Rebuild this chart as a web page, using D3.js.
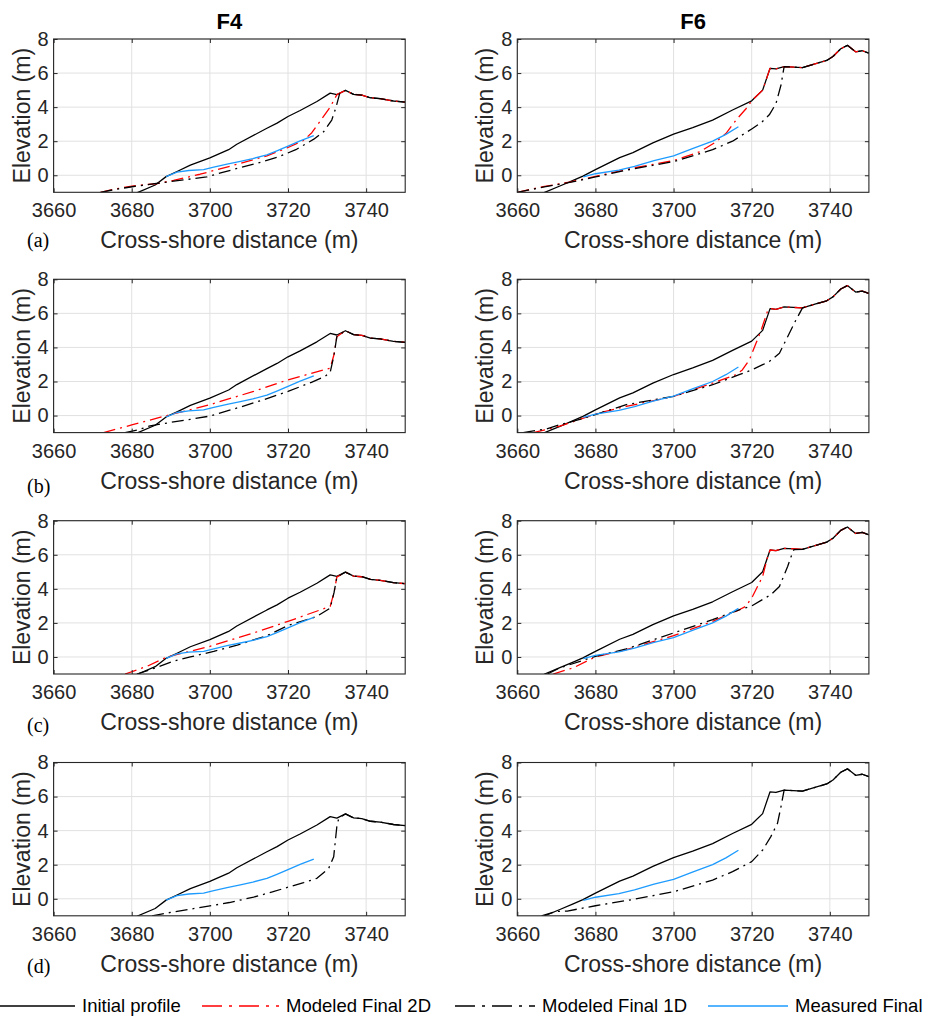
<!DOCTYPE html>
<html><head><meta charset="utf-8">
<script src="https://cdn.jsdelivr.net/npm/d3@7"></script>
<style>body{margin:0;background:#fff} svg{display:block}</style>
</head><body><svg id="c" width="928" height="1017"></svg>
<script>
// ---------------- DATA ----------------
const columnTitles = ["F4", "F6"];
const panelLabels = ["(a)", "(b)", "(c)", "(d)"];
const xTicks = [3660, 3680, 3700, 3720, 3740];
const yTicks = [0, 2, 4, 6, 8];
const xDomain = [3660, 3750];
const yDomain = [-1, 8];
const xLabel = "Cross-shore distance (m)";
const yLabel = "Elevation (m)";
const seriesNames = ["Initial profile", "Modeled Final 2D", "Modeled Final 1D", "Measured Final"];

// F4 profiles
const f4Initial = [[3680,-1.35],[3681.6,-1],[3686,-0.57],[3688.8,-0.08],[3691.6,0.22],[3695,0.6],[3700,1.02],[3704.8,1.5],[3706.9,1.82],[3714.6,2.76],[3717.2,3.06],[3720,3.45],[3723.1,3.8],[3727.4,4.33],[3730.8,4.82],[3732.5,4.73],[3734.7,4.98],[3736.8,4.75],[3738.9,4.71],[3741.1,4.55],[3743.6,4.5],[3747,4.36],[3750,4.3]];
const f4Measured = [[3688.8,-0.08],[3691.6,0.18],[3694.6,0.28],[3698.4,0.33],[3701,0.48],[3704.4,0.66],[3707.8,0.82],[3711,0.98],[3714.6,1.2],[3717,1.42],[3719.7,1.68],[3723.1,2.02],[3726.6,2.33]];
const f4Model2D_a = [[3672,-1],[3675.4,-0.82],[3680.5,-0.62],[3686.5,-0.49],[3690.7,-0.3],[3697.5,0.06],[3706.1,0.59],[3714.6,1.14],[3719.7,1.6],[3724,2.05],[3726.1,2.5],[3728.3,3.2],[3730.8,4.0],[3732.5,4.73]];
const f4Model1D_a = [[3672,-1],[3676,-0.82],[3680.5,-0.66],[3685,-0.52],[3689,-0.4],[3694,-0.25],[3699.2,-0.1],[3703,0.15],[3707.8,0.45],[3712,0.7],[3717.2,1.05],[3722,1.5],[3726.6,2.12],[3729.1,2.55],[3731.2,3.24],[3732.3,4.0],[3733.2,4.78]];
const f4Model2D_b = [[3672.8,-1],[3680,-0.55],[3689,0.0],[3700,0.64],[3711.2,1.42],[3720,2.1],[3730.8,2.78],[3731.8,3.6],[3732.5,4.63]];
const f4Model1D_b = [[3678.3,-1],[3681.5,-0.85],[3684.7,-0.6],[3690,-0.4],[3695,-0.22],[3700,-0.03],[3707.8,0.5],[3714,0.95],[3720,1.42],[3726,1.95],[3729.5,2.3],[3730.8,2.55],[3731.7,3.46],[3732.5,4.63]];
const f4Model2D_c = [[3678.3,-1],[3683.9,-0.55],[3689,0.0],[3700,0.62],[3711.2,1.41],[3720,2.09],[3730.8,2.97],[3731.8,3.8],[3732.5,4.69]];
const f4Model1D_c = [[3681.3,-1],[3684.7,-0.75],[3690.7,-0.25],[3695,0.0],[3701,0.33],[3707,0.7],[3714.6,1.25],[3720,1.85],[3727.4,2.38],[3730.8,2.87],[3731.8,3.8],[3732.5,4.69]];
const f4Model1D_d = [[3685.2,-1],[3690,-0.8],[3700,-0.42],[3705,-0.22],[3711.2,0.1],[3716,0.4],[3720,0.68],[3724,0.95],[3727.4,1.2],[3730.4,1.78],[3731.7,2.47],[3732.5,4.24],[3733,4.73]];

// F6 profiles
const f6Initial = [[3665,-1.4],[3667,-1],[3670.9,-0.63],[3674.3,-0.3],[3676.8,-0.05],[3680,0.33],[3686.2,1.04],[3689.6,1.33],[3694.7,1.9],[3700,2.41],[3704.9,2.8],[3710,3.24],[3715.1,3.83],[3720,4.37],[3722.8,5.0],[3724.7,6.28],[3726.2,6.24],[3728.3,6.38],[3733,6.32],[3736.4,6.55],[3739.2,6.74],[3740.8,6.97],[3742.8,7.43],[3744.5,7.63],[3746.6,7.25],[3748.3,7.31],[3750,7.17]];
const f6Measured = [[3676.9,-0.1],[3680,0.09],[3686,0.3],[3690,0.52],[3695,0.86],[3700,1.14],[3705,1.58],[3710,2.0],[3713.4,2.4],[3716.6,2.85]];
const f6Model2D_a = [[3660,-1],[3666.6,-0.67],[3673.4,-0.4],[3680,-0.07],[3687.9,0.35],[3700,0.86],[3706.6,1.37],[3710.9,1.96],[3713.4,2.45],[3716,3.24],[3718.6,3.92],[3720,4.37]];
const f6Model1D_a = [[3660,-1],[3666.6,-0.7],[3673.4,-0.42],[3680,-0.1],[3687.9,0.3],[3700,0.8],[3710,1.5],[3715.1,2.0],[3720,2.72],[3722.5,3.1],[3724.5,3.55],[3726.2,4.2],[3727.5,5.3],[3728.3,6.38]];
const f6Model2D_b = [[3664.1,-1],[3670.9,-0.62],[3676,-0.23],[3680,0.1],[3687.9,0.54],[3700,1.13],[3710,1.91],[3716,2.4],[3717.6,2.68],[3719.4,3.27],[3721.1,4.24],[3722.4,5.0],[3724.1,6.17],[3724.7,6.28]];
const f6Model1D_b = [[3661.5,-1],[3667.5,-0.78],[3670.9,-0.53],[3676,-0.23],[3680,0.06],[3687.9,0.64],[3700,1.13],[3710,1.81],[3716.8,2.4],[3720,2.68],[3724.5,3.17],[3727.1,3.66],[3729.2,4.63],[3731.3,5.6],[3733,6.32]];
const f6Model2D_c = [[3669.2,-1],[3674.3,-0.64],[3680,0.0],[3687.9,0.43],[3700,1.25],[3710,2.09],[3716.8,2.77],[3718.5,2.97],[3720.2,3.55],[3722.8,4.73],[3724.1,5.9],[3724.7,6.28]];
const f6Model1D_c = [[3667.7,-1],[3670.9,-0.64],[3680,0.04],[3687.9,0.47],[3700,1.41],[3710,2.19],[3716.8,2.77],[3720,3.0],[3724.9,3.65],[3727.1,4.14],[3729.2,5.31],[3730.1,5.9],[3730.8,6.3],[3733,6.32]];
const f6Model1D_d = [[3666.2,-1],[3670,-0.75],[3672.8,-0.72],[3680,-0.41],[3689.6,-0.04],[3700,0.41],[3710,1.1],[3715.1,1.59],[3720,2.18],[3722.8,2.86],[3724.9,3.65],[3726.6,4.43],[3727.5,5.41],[3728.3,6.38]];

// model profiles rejoin the initial profile landward of their last point
function withCrest(model, initial) {
  const last = model[model.length - 1][0];
  return model.concat(initial.filter(d => d[0] > last));
}

const panels = [
  {row:0,col:0,initial:f4Initial,m2d:f4Model2D_a,m1d:f4Model1D_a,meas:f4Measured},
  {row:0,col:1,initial:f6Initial,m2d:f6Model2D_a,m1d:f6Model1D_a,meas:f6Measured},
  {row:1,col:0,initial:f4Initial,m2d:f4Model2D_b,m1d:f4Model1D_b,meas:f4Measured},
  {row:1,col:1,initial:f6Initial,m2d:f6Model2D_b,m1d:f6Model1D_b,meas:f6Measured},
  {row:2,col:0,initial:f4Initial,m2d:f4Model2D_c,m1d:f4Model1D_c,meas:f4Measured},
  {row:2,col:1,initial:f6Initial,m2d:f6Model2D_c,m1d:f6Model1D_c,meas:f6Measured},
  {row:3,col:0,initial:f4Initial,m2d:null,m1d:f4Model1D_d,meas:f4Measured},
  {row:3,col:1,initial:f6Initial,m2d:null,m1d:f6Model1D_d,meas:f6Measured}
];

// ---------------- LAYOUT / STYLE ----------------
const colX = [53.6, 517.3];
const rowTop = [39, 279.3, 520.7, 762.5];
const plotW = 351.6, plotH = 153.3;
const labelBaseline = [246.5, 493, 732, 973];
const SANS = "'Liberation Sans', Arial, Helvetica, sans-serif";
const SERIF = "'Liberation Serif', 'Times New Roman', serif";
const AX = "#262626";
const styles = {
  initial: {stroke:"#000000", dash:null, w:1.3},
  m2d: {stroke:"#ff0000", dash:"12,5,2,5", w:1.3},
  m1d: {stroke:"#000000", dash:"12,5,2,5", w:1.3},
  meas: {stroke:"#1e9bff", dash:null, w:1.3}
};

const svg = d3.select("#c");
const x = d3.scaleLinear().domain(xDomain).range([0, plotW]);
const y = d3.scaleLinear().domain(yDomain).range([plotH, 0]);
const line = d3.line().x(d => x(d[0])).y(d => y(d[1]));

// column titles
columnTitles.forEach((t, i) => {
  svg.append("text").attr("x", colX[i] + plotW / 2).attr("y", 28.5)
    .attr("text-anchor", "middle").attr("font-family", SANS)
    .attr("font-weight", "bold").attr("font-size", 22).attr("fill", "#000").text(t);
});

panels.forEach((p, idx) => {
  const g = svg.append("g").attr("transform", `translate(${colX[p.col]},${rowTop[p.row]})`);
  // grid
  g.append("g").selectAll("line").data(xTicks).join("line")
    .attr("x1", d => x(d)).attr("x2", d => x(d)).attr("y1", 0).attr("y2", plotH)
    .attr("stroke", "#e1e1e1").attr("stroke-width", 1);
  g.append("g").selectAll("line").data(yTicks).join("line")
    .attr("y1", d => y(d)).attr("y2", d => y(d)).attr("x1", 0).attr("x2", plotW)
    .attr("stroke", "#e1e1e1").attr("stroke-width", 1);

  const cid = "clip" + idx;
  g.append("clipPath").attr("id", cid).append("rect")
    .attr("x", 0).attr("y", 0).attr("width", plotW).attr("height", plotH);
  const lg = g.append("g").attr("clip-path", `url(#${cid})`);
  const draw = (data, st) => {
    if (!data) return;
    const path = lg.append("path").datum(data).attr("d", line)
      .attr("fill", "none").attr("stroke", st.stroke).attr("stroke-width", st.w)
      .attr("stroke-linejoin", "round");
    if (st.dash) path.attr("stroke-dasharray", st.dash);
  };
  draw(p.initial, styles.initial);
  if (p.m2d) draw(withCrest(p.m2d, p.initial), styles.m2d);
  draw(withCrest(p.m1d, p.initial), styles.m1d);
  draw(p.meas, styles.meas);

  // axes
  const ax = g.append("g").attr("transform", `translate(0,${plotH})`)
    .call(d3.axisBottom(x).tickValues(xTicks).tickFormat(d3.format("d")).tickSizeInner(-4).tickSizeOuter(0).tickPadding(11));
  const ay = g.append("g")
    .call(d3.axisLeft(y).tickValues(yTicks).tickFormat(d3.format("d")).tickSizeInner(-4).tickSizeOuter(0).tickPadding(5));
  const axT = g.append("g")
    .call(d3.axisTop(x).tickValues(xTicks).tickFormat("").tickSizeInner(-4).tickSizeOuter(0));
  const ayR = g.append("g").attr("transform", `translate(${plotW},0)`)
    .call(d3.axisRight(y).tickValues(yTicks).tickFormat("").tickSizeInner(-4).tickSizeOuter(0));
  [ax, ay, axT, ayR].forEach(a => {
    a.select(".domain").remove();
    a.selectAll("line").attr("stroke", AX);
    a.selectAll("text").attr("font-family", SANS).attr("font-size", 20).attr("fill", AX);
  });
  g.append("rect").attr("x", 0).attr("y", 0).attr("width", plotW).attr("height", plotH)
    .attr("fill", "none").attr("stroke", AX).attr("stroke-width", 1.1);

  // axis labels
  g.append("text").attr("x", plotW / 2).attr("y", plotH + 56)
    .attr("text-anchor", "middle").attr("font-family", SANS).attr("font-size", 23)
    .attr("fill", AX).text(xLabel);
  g.append("text").attr("transform", `translate(-24,${plotH / 2}) rotate(-90)`)
    .attr("text-anchor", "middle").attr("font-family", SANS).attr("font-size", 23)
    .attr("fill", AX).text(yLabel);

  if (p.col === 0) {
    svg.append("text").attr("x", 27).attr("y", labelBaseline[p.row])
      .attr("font-family", SERIF).attr("font-size", 20).attr("fill", "#000").text(panelLabels[p.row]);
  }
});

// legend
const legendKeys = ["initial", "m2d", "m1d", "meas"];
const legendLines = [[0, 75], [202, 279], [455, 535], [708, 788]];
const legendDash = {initial:null, m2d:"20,7,3,7", m1d:"20,7,3,7", meas:null};
const lgG = svg.append("g");
legendKeys.forEach((k, i) => {
  const st = styles[k];
  const l = lgG.append("line").attr("x1", legendLines[i][0]).attr("x2", legendLines[i][1])
    .attr("y1", 1006).attr("y2", 1006).attr("stroke", st.stroke).attr("stroke-width", 1.3);
  if (legendDash[k]) l.attr("stroke-dasharray", legendDash[k]);
  lgG.append("text").attr("x", legendLines[i][1] + 7).attr("y", 1012)
    .attr("font-family", SANS).attr("font-size", 18.5).attr("fill", "#000").text(seriesNames[i]);
});
</script></body></html>
